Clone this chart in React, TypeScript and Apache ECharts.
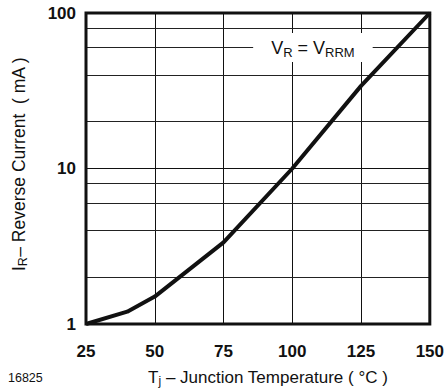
import React, { useEffect, useRef } from "react";
import * as echarts from "echarts";

const temps = [25, 40, 50, 75, 100, 125, 150];
const current = [1, 1.2, 1.5, 3.35, 10, 34, 100];
const minorGrid = [2, 4, 6, 8, 20, 40, 60, 80];
const labelPos = [107.5, 60];

const FONT = "Liberation Sans, Arial, Helvetica, sans-serif";

export default function App() {
  const ref = useRef<HTMLDivElement>(null);
  useEffect(() => {
    if (!ref.current) return;
    const chart = echarts.init(ref.current, undefined, { renderer: "svg" });
    chart.setOption({
      animation: false,
      grid: {
        left: 86,
        right: 15,
        top: 13,
        bottom: 67,
        show: true,
        borderColor: "#111",
        borderWidth: 3,
        z: 10,
      },
      xAxis: {
        type: "value",
        min: 25,
        max: 150,
        interval: 25,
        axisLine: { show: false },
        axisTick: { show: false },
        axisLabel: {
          margin: 19,
          fontSize: 17,
          fontWeight: "bold",
          color: "#111",
          fontFamily: FONT,
        },
        splitLine: { show: true, lineStyle: { color: "#111", width: 1 } },
      },
      yAxis: {
        type: "log",
        logBase: 10,
        min: 1,
        max: 100,
        axisLine: { show: false },
        axisTick: { show: false },
        axisLabel: {
          margin: 10,
          fontSize: 17,
          fontWeight: "bold",
          color: "#111",
          fontFamily: FONT,
        },
        splitLine: { show: true, lineStyle: { color: "#111", width: 1 } },
        minorTick: { show: false },
      },
      series: [
        {
          type: "line",
          data: temps.map((t, i) => [t, current[i]]),
          symbol: "none",
          lineStyle: { color: "#111", width: 4 },
          z: 5,
          markLine: {
            silent: true,
            symbol: "none",
            label: { show: false },
            lineStyle: { color: "#222", width: 1, type: "solid" },
            data: minorGrid.map((v) => ({ yAxis: v })),
            z: 1,
          },
          markPoint: {
            symbol: "rect",
            symbolSize: 1,
            itemStyle: { color: "rgba(0,0,0,0)" },
            data: [{ coord: labelPos }],
            label: {
              show: true,
              position: "inside",
              backgroundColor: "#fff",
              padding: [5, 18, 3, 18],
              formatter: "{a|V}{s|R}{a| = V}{s|RRM}",
              rich: {
                a: { fontSize: 18, color: "#111", fontFamily: FONT, lineHeight: 21, verticalAlign: "middle" },
                s: { fontSize: 13, color: "#111", fontFamily: FONT, lineHeight: 21, verticalAlign: "bottom", padding: [9, 0, 0, 0] },
              },
            },
          },
        },
      ],
      graphic: [
        {
          type: "text",
          left: 8,
          top: 371,
          style: { text: "16825", fontSize: 12.5, fill: "#111", fontFamily: FONT },
        },
        {
          type: "text",
          x: 268,
          y: 377,
          style: {
            text: "{a|T}{s|j}{a| – Junction Temperature ( °C )}",
            align: "center",
            verticalAlign: "middle",
            rich: {
              a: { fontSize: 17, fill: "#111", fontFamily: FONT, lineHeight: 20, verticalAlign: "middle" },
              s: { fontSize: 12, fill: "#111", fontFamily: FONT, lineHeight: 20, verticalAlign: "bottom", padding: [9, 0, 0, 0] },
            },
          },
        },
        {
          type: "text",
          x: 19,
          y: 164,
          rotation: Math.PI / 2,
          style: {
            text: "{a|I}{s|R}{a|– Reverse Current  ( mA )}",
            align: "center",
            verticalAlign: "middle",
            rich: {
              a: { fontSize: 17.5, fill: "#111", fontFamily: FONT, lineHeight: 20, verticalAlign: "middle" },
              s: { fontSize: 12.5, fill: "#111", fontFamily: FONT, lineHeight: 20, verticalAlign: "bottom", padding: [9, 0, 0, 0] },
            },
          },
        },
      ],
    });
    return () => chart.dispose();
  }, []);
  return (
    <div
      ref={ref}
      style={{ position: "fixed", left: 0, top: 0, width: 447, height: 391, background: "#fff" }}
    />
  );
}
